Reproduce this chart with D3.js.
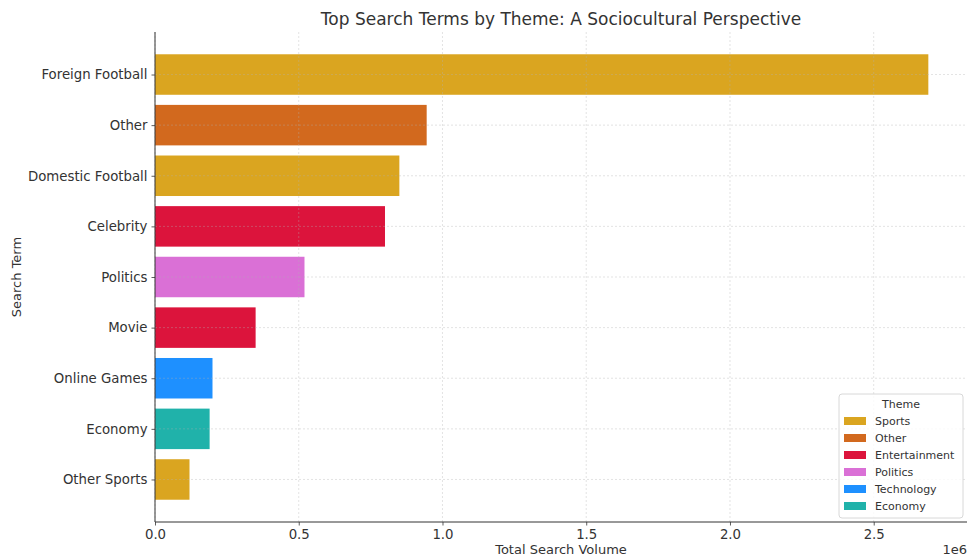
<!DOCTYPE html>
<html><head><meta charset="utf-8">
<script src="https://cdn.jsdelivr.net/npm/d3@7"></script>
<style>body{margin:0;background:#fff;} svg{display:block;font-family:"DejaVu Sans",sans-serif;}</style>
</head><body><svg id="c" width="969" height="557"></svg>
<script>
const terms = ["Foreign Football","Other","Domestic Football","Celebrity","Politics","Movie","Online Games","Economy","Other Sports"];
const volumes = [2690000, 945000, 850000, 800000, 520000, 350000, 200000, 190000, 120000];
const themes = ["Sports","Other","Sports","Entertainment","Politics","Entertainment","Technology","Economy","Sports"];
const themeNames = ["Sports","Other","Entertainment","Politics","Technology","Economy"];
const themeColors = ["#DAA520","#D2691E","#DC143C","#DA70D6","#1E90FF","#20B2AA"];
const xTicks = [0, 500000, 1000000, 1500000, 2000000, 2500000];
const xTickLabels = ["0.0","0.5","1.0","1.5","2.0","2.5"];

const svg = d3.select("#c");
const L = 155, R = 967, T = 32, B = 522;
const textCol = "#333";
const color = d3.scaleOrdinal().domain(themeNames).range(themeColors);
const x = d3.scaleLinear().domain([0, d3.max(volumes)*1.05]).range([L, R]);
const n = terms.length;
const y = d3.scaleLinear().domain([-0.4 - 0.44, n - 1 + 0.4 + 0.44]).range([T, B]);
const bh = y(0.8) - y(0);

svg.append("g").selectAll("rect").data(terms).join("rect")
  .attr("x", x(0)).attr("y", (d,i)=>y(i-0.4))
  .attr("width", (d,i)=>x(volumes[i])-x(0)).attr("height", bh)
  .attr("fill", (d,i)=>color(themes[i]));

const grid = svg.append("g").attr("stroke","#b0b0b0").attr("stroke-opacity",0.45).attr("stroke-dasharray","2,2").attr("stroke-width",0.8);
grid.selectAll("line.v").data(xTicks).join("line").attr("class","v")
  .attr("x1",d=>x(d)).attr("x2",d=>x(d)).attr("y1",T).attr("y2",B);
grid.selectAll("line.h").data(terms).join("line").attr("class","h")
  .attr("x1",L).attr("x2",R).attr("y1",(d,i)=>y(i)).attr("y2",(d,i)=>y(i));

const xAxis = d3.axisBottom(x).tickValues(xTicks).tickFormat((d,i)=>xTickLabels[i]).tickSize(3.5).tickPadding(4);
const gx = svg.append("g").attr("transform",`translate(0,${B})`).call(xAxis);
gx.select(".domain").attr("d",`M${L},0H${R}`);
const yAxis = d3.axisLeft(y).tickValues(d3.range(n)).tickFormat(i=>terms[i]).tickSize(3.5).tickPadding(4);
const gy = svg.append("g").attr("transform",`translate(${L},0)`).call(yAxis);
gy.select(".domain").attr("d",`M0,${T}V${B}`);
[gx,gy].forEach(g=>{
  g.selectAll("text").attr("font-size",13.3).attr("fill",textCol).attr("font-family","DejaVu Sans");
  g.selectAll("line").attr("stroke","#333").attr("stroke-width",0.8);
  g.select(".domain").attr("stroke","#333").attr("stroke-width",1);
});

svg.append("text").attr("x",(L+R)/2).attr("y",25).attr("text-anchor","middle")
  .attr("font-size",17).attr("fill",textCol).text("Top Search Terms by Theme: A Sociocultural Perspective");
svg.append("text").attr("x",(L+R)/2).attr("y",554).attr("text-anchor","middle")
  .attr("font-size",13).attr("fill",textCol).text("Total Search Volume");
svg.append("text").attr("x",R).attr("y",554).attr("text-anchor","end")
  .attr("font-size",13).attr("fill",textCol).text("1e6");
svg.append("text").attr("transform",`translate(21,${(T+B)/2}) rotate(-90)`).attr("text-anchor","middle")
  .attr("font-size",13).attr("fill",textCol).text("Search Term");

const lg = svg.append("g").attr("transform","translate(839,394)");
lg.append("rect").attr("width",124).attr("height",124).attr("rx",3)
  .attr("fill","#fff").attr("fill-opacity",0.8).attr("stroke","#d8d8d8");
lg.append("text").attr("x",62).attr("y",14).attr("text-anchor","middle").attr("font-size",11).attr("fill",textCol).text("Theme");
const it = lg.selectAll("g.it").data(themeNames).join("g").attr("class","it")
  .attr("transform",(d,i)=>`translate(5,${27+i*17})`);
it.append("rect").attr("x",0).attr("y",-4).attr("width",22).attr("height",8).attr("fill",d=>color(d));
it.append("text").attr("x",31).attr("y",4).attr("font-size",11).attr("fill",textCol).text(d=>d);
</script></body></html>
